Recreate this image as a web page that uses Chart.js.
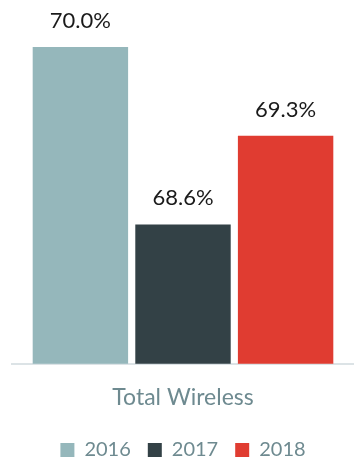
<!DOCTYPE html>
<html>
<head>
<meta charset="utf-8">
<script src="https://cdn.jsdelivr.net/npm/chart.js@4"></script>
<style>
	html, body { margin: 0; padding: 0; background: #fff; }
	#wrap { width: 354px; height: 461px; }
</style>
</head>
<body>
<div id="wrap"><canvas id="wireless_chart"></canvas></div>
<script>
const categories = ['Total Wireless'];
const years = ['2016', '2017', '2018'];
const values2016 = [70.0];
const values2017 = [68.6];
const values2018 = [69.3];
const colors = ['#95b7bb', '#334146', '#e03c31'];

const labelColor = '#6e8a90';
const fontFamily = 'Lato, "Open Sans", sans-serif';

const valueLabels = {
	id: 'valueLabels',
	afterDatasetsDraw(chart) {
		const ctx = chart.ctx;
		ctx.save();
		ctx.font = `22px ${fontFamily}`;
		ctx.fillStyle = '#1a1a1a';
		ctx.textAlign = 'center';
		ctx.textBaseline = 'alphabetic';
		chart.data.datasets.forEach((ds, i) => {
			chart.getDatasetMeta(i).data.forEach((bar, j) => {
				ctx.fillText(ds.data[j].toFixed(1) + '%', bar.x, bar.y - 19);
			});
		});
		ctx.restore();
	}
};

new Chart(document.getElementById('wireless_chart'), {
	type: 'bar',
	data: {
		labels: categories,
		datasets: [
			{ label: years[0], data: values2016, backgroundColor: colors[0] },
			{ label: years[1], data: values2017, backgroundColor: colors[1] },
			{ label: years[2], data: values2018, backgroundColor: colors[2] }
		]
	},
	options: {
		responsive: true,
		maintainAspectRatio: false,
		animation: false,
		categoryPercentage: 0.9,
		barPercentage: 0.93,
		layout: { padding: { left: 12, right: 0, top: 0, bottom: -9 } },
		plugins: {
			legend: {
				position: 'bottom',
				labels: {
					boxWidth: 14,
					boxHeight: 14,
					padding: 17,
					color: labelColor,
					font: { family: fontFamily, size: 20 }
				}
			},
			tooltip: { enabled: false }
		},
		scales: {
			x: {
				grid: { display: false },
				border: { display: true, color: '#dce3e6', width: 2 },
				ticks: {
					color: labelColor,
					padding: 15,
					font: { family: fontFamily, size: 23, lineHeight: 0.92 }
				}
			},
			y: {
				display: false,
				min: 67.5,
				max: 70.37
			}
		}
	},
	plugins: [valueLabels]
});
</script>
</body>
</html>
